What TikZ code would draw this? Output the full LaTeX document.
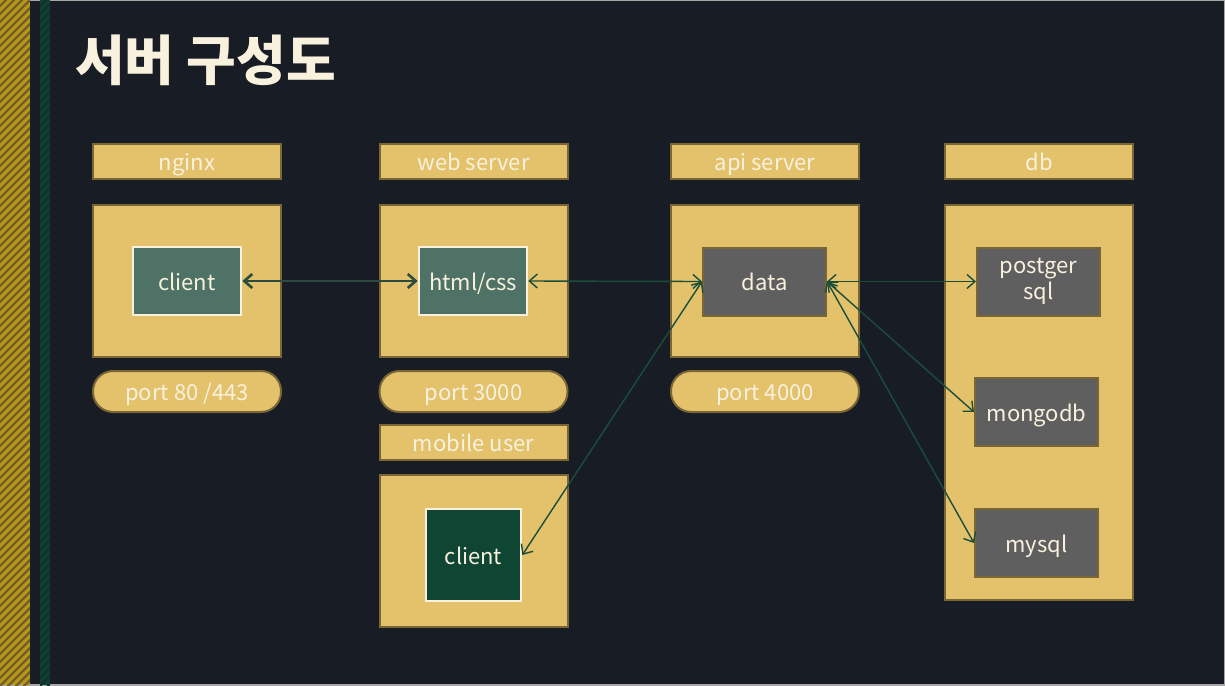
\documentclass[tikz,border=0pt]{standalone}
\usepackage{fontspec}
\newfontfamily\korfont{Noto Sans CJK KR}
\usetikzlibrary{arrows.meta}
\usetikzlibrary{positioning}

\definecolor{bgdark}{HTML}{181C24}
\definecolor{boxyellow}{HTML}{E3C26B}
\definecolor{boxedge}{HTML}{7A6535}
\definecolor{textcream}{HTML}{F8F1DE}
\definecolor{clientgreen}{HTML}{4E7265}
\definecolor{mobilegreen}{HTML}{0F4533}
\definecolor{datagrey}{HTML}{5F5F5F}
\definecolor{linkgreen}{HTML}{1B4D3B}
\definecolor{thickgreen}{HTML}{2B4A40}
\definecolor{stripegold}{HTML}{B8961E}
\definecolor{stripegreen}{HTML}{0F4030}

\begin{document}
\begin{tikzpicture}[x=0.5pt, y=-0.5pt,
  every node/.style={font=\korfont\fontsize{11pt}{13pt}\selectfont, text=textcream, text height=10pt, text depth=1pt},
  tagbox/.style={draw=boxedge, line width=1pt, fill=boxyellow, minimum width=94pt, minimum height=17.5pt, inner sep=0pt},
  hostbox/.style={draw=boxedge, line width=1pt, fill=boxyellow, minimum width=94pt, minimum height=76pt, inner sep=0pt},
  portbox/.style={draw=boxedge, line width=1pt, fill=boxyellow, rounded corners=10pt, minimum width=94pt, minimum height=20.5pt, inner sep=0pt},
  appbox/.style={draw=textcream, line width=1.3pt, fill=clientgreen, minimum width=54pt, minimum height=34pt, inner sep=0pt},
  storebox/.style={draw=boxedge, line width=1pt, fill=datagrey, minimum width=61.5pt, minimum height=34pt, inner sep=0pt, align=center},
  link/.style={linkgreen, line width=0.7pt, {Straight Barb[length=4pt,width=7pt]}-{Straight Barb[length=4pt,width=7pt]}},
  thicklink/.style={thickgreen, line width=1.3pt, {Straight Barb[length=4pt,width=7pt]}-{Straight Barb[length=4pt,width=7pt]}}]

\useasboundingbox (0,0) rectangle (1225,685);
\fill[bgdark] (0,0) rectangle (1225,685);
\draw[gray!70, line width=0.6pt] (0,0) rectangle (1225,685);

% side stripes
\begin{scope}
\clip (0,0) rectangle (30,685);
\fill[stripegold] (0,0) rectangle (30,685);
\foreach \s in {0,8,...,740}
  \draw[stripegold!55!bgdark, line width=1.2pt] (-10,\s) -- (40,\s-50);
\end{scope}
\begin{scope}
\clip (40,0) rectangle (50,685);
\fill[stripegreen] (40,0) rectangle (50,685);
\foreach \s in {0,8,...,740}
  \draw[stripegreen!60!bgdark, line width=1.2pt] (30,\s) -- (60,\s-30);
\end{scope}

\node[anchor=west, text height=, text depth=, font=\korfont\bfseries\fontsize{27pt}{31pt}\selectfont] (title) at (68,60) {서버 구성도};

% nginx
\node[tagbox] (nginxlabel) at (187,161.5) {nginx};
\node[hostbox] (nginxbox) at (187,281) {};
\node[appbox] (nginxclient) at (187,281) {client};
\node[portbox] (nginxport) at (187,391.5) {port 80 /443};

% web server
\node[tagbox] (weblabel) at (473.5,161.5) {web server};
\node[hostbox] (webbox) at (473.5,281) {};
\node[appbox] (webhtml) at (473,281) {html/css};
\node[portbox] (webport) at (473.5,391.5) {port 3000};

% mobile user
\node[tagbox] (mobilelabel) at (473.5,442.5) {mobile user};
\node[hostbox] (mobilebox) at (473.5,551) {};
\node[appbox, fill=mobilegreen, minimum width=47.5pt, minimum height=46pt] (mobileclient) at (473.5,555) {client};

% api server
\node[tagbox] (apilabel) at (765,161.5) {api server};
\node[hostbox] (apibox) at (765,281) {};
\node[storebox] (apidata) at (764.5,281.5) {data};
\node[portbox] (apiport) at (765,391.5) {port 4000};

% db
\node[tagbox] (dblabel) at (1039,161.5) {db};
\node[hostbox, minimum height=197.5pt] (dbbox) at (1039,402.5) {};
\node[storebox, text height=, text depth=] (dbpostgres) at (1038.5,281.5) {postger\\[0pt]sql};
\node[storebox] (dbmongo) at (1036.5,412) {mongodb};
\node[storebox] (dbmysql) at (1036.5,543) {mysql};

% links
\draw[thicklink] (nginxclient.east) -- (webhtml.west);
\draw[link] (webhtml.east) -- (apidata.west);
\draw[link] (apidata.west) -- (mobileclient.east);
\draw[link] (apidata.east) -- (dbpostgres.west);
\draw[link] (apidata.east) -- (dbmongo.west);
\draw[link] (apidata.east) -- (dbmysql.west);
\end{tikzpicture}
\end{document}
